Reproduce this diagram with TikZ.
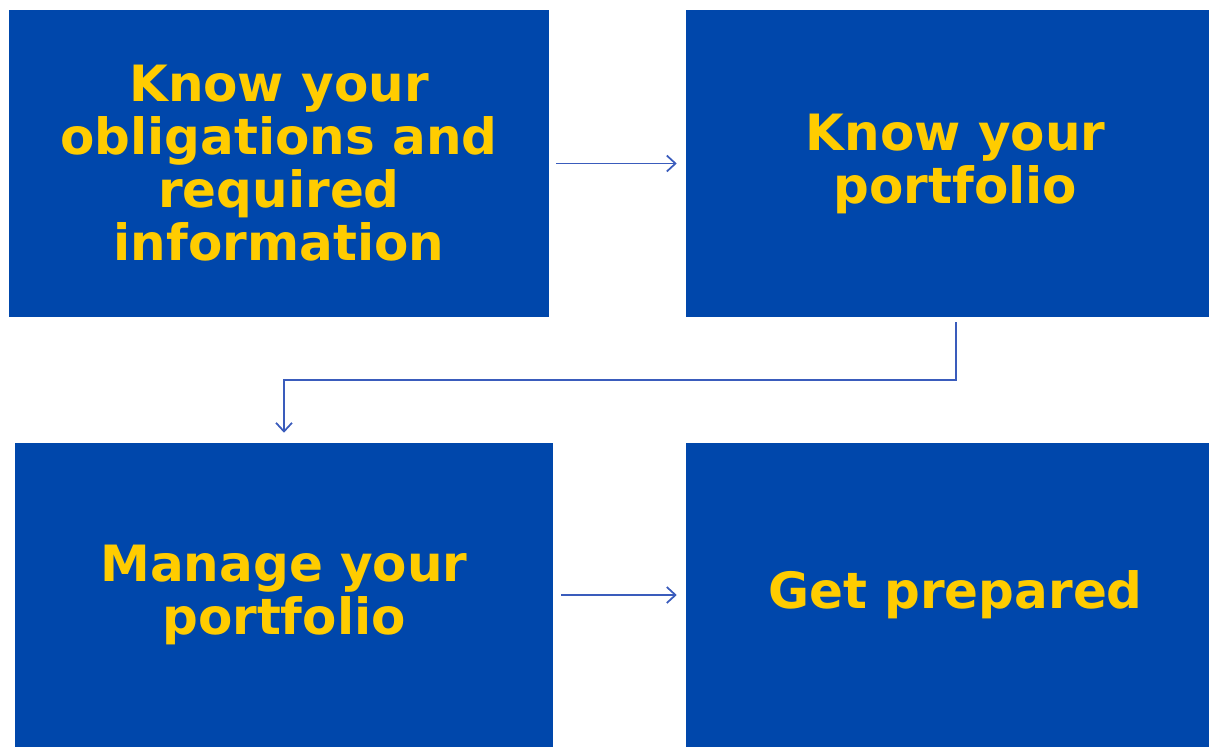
\documentclass[tikz,border=0pt]{standalone}
\usepackage{fontspec}
\setsansfont{DejaVu Sans}
\usepackage{xcolor}
\usepackage{tikz}
\usetikzlibrary{positioning, arrows.meta, calc}

\definecolor{boxblue}{HTML}{0047AB}
\definecolor{lineblue}{HTML}{3A5CBC}
\definecolor{boxyellow}{HTML}{FFCC00}

\begin{document}
\begin{tikzpicture}[x=0.75pt, y=-0.75pt,
  box/.style={fill=boxblue, inner sep=0pt, align=center, text=boxyellow,
    font=\sffamily\bfseries\fontsize{37.5}{39.75}\selectfont},
  flow/.style={lineblue, line width=1.3pt, -{Straight Barb[length=6.5pt, width=12pt]}}]
  \useasboundingbox (0,0) rectangle (1209,747);
  % steps
  \node[box, minimum width=405pt, minimum height=230.25pt] (oblig) at (279,163.5)
    {Know your\\obligations and\\required\\information};
  \node[box, minimum width=392.25pt, minimum height=230.25pt] (know) at (947.5,163.5)
    {\hspace*{12pt}Know your\\\hspace*{12pt}portfolio};
  \node[box, minimum width=403.5pt, minimum height=228pt] (manage) at (284,595)
    {Manage your\\portfolio};
  \node[box, minimum width=392.25pt, minimum height=228pt] (ready) at (947.5,595)
    {\hspace*{12pt}Get prepared};
  % connectors
  \draw[flow, shorten <=5.25pt, shorten >=6.75pt] (oblig.east) -- (know.west);
  \draw[flow, shorten <=3.75pt, shorten >=7.5pt] ([xshift=6.4pt]know.south) -- ++(0,63) -| (manage.north);
  \draw[flow, shorten <=6pt, shorten >=6.75pt] (manage.east) -- (ready.west);
\end{tikzpicture}
\end{document}
